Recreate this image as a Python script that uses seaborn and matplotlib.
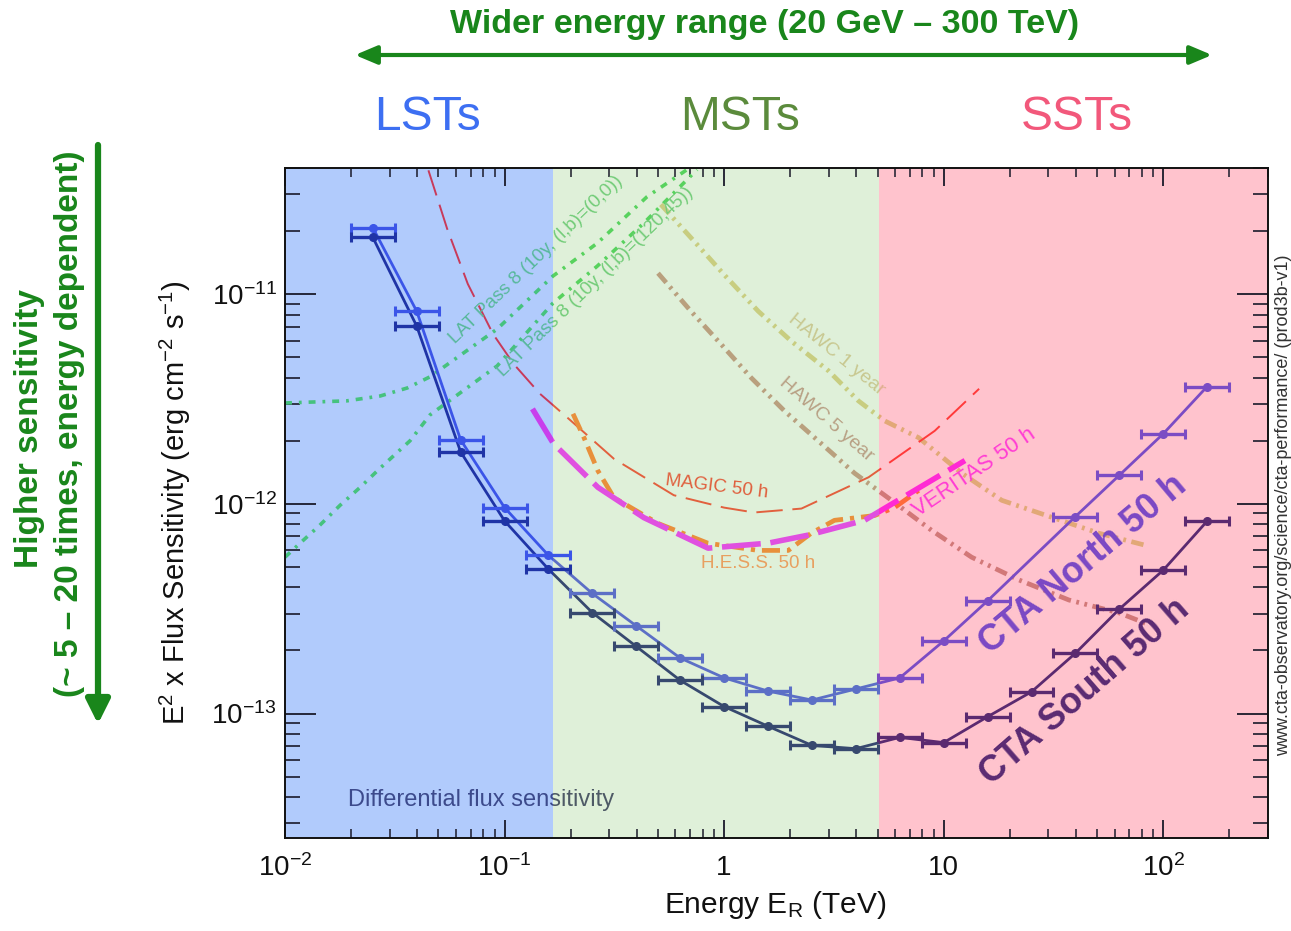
import matplotlib
matplotlib.use("Agg")
import numpy as np
import pandas as pd
import matplotlib.pyplot as plt
from matplotlib.patches import FancyArrowPatch
from matplotlib.transforms import Bbox, TransformedBbox
from matplotlib.ticker import FixedLocator, FixedFormatter, LogLocator, NullFormatter
import seaborn as sns

# ---------------------------------------------------------------- data
E_LIMITS = (1e-2, 3e2)            # TeV
F_LIMITS = (2.55e-14, 4e-11)      # erg cm^-2 s^-1
REGION_EDGES = [0.166, 5.1]       # LST | MST | SST boundaries (TeV)

x_tick_values = [1e-2, 1e-1, 1, 10, 1e2]
x_tick_labels = ["$10^{-2}$", "$10^{-1}$", "1", "10", "$10^{2}$"]
y_tick_values = [1e-13, 1e-12, 1e-11]
y_tick_labels = ["$10^{-13}$", "$10^{-12}$", "$10^{-11}$"]

cta_north_E = [0.0251, 0.0398, 0.0631, 0.100, 0.158, 0.251, 0.398, 0.631, 1.0, 1.585,
               2.512, 3.981, 6.31, 10.0, 15.85, 39.81, 63.1, 100.0, 158.5]
cta_north_F = [2.08e-11, 8.3e-12, 2.02e-12, 9.6e-13, 5.7e-13, 3.74e-13, 2.62e-13, 1.84e-13,
               1.48e-13, 1.28e-13, 1.16e-13, 1.31e-13, 1.48e-13, 2.22e-13, 3.45e-13,
               8.7e-13, 1.37e-12, 2.16e-12, 3.63e-12]
cta_south_E = [0.0251, 0.0398, 0.0631, 0.100, 0.158, 0.251, 0.398, 0.631, 1.0, 1.585,
               2.512, 3.981, 6.31, 10.0, 15.85, 25.12, 39.81, 63.1, 100.0, 158.5]
cta_south_F = [1.87e-11, 7.05e-12, 1.77e-12, 8.3e-13, 4.9e-13, 3.03e-13, 2.09e-13, 1.44e-13,
               1.08e-13, 8.7e-14, 7.05e-14, 6.8e-14, 7.7e-14, 7.27e-14, 9.66e-14, 1.27e-13,
               1.94e-13, 3.15e-13, 4.83e-13, 8.28e-13]
BIN_HALF_DEX = 0.1

magic_E = [0.045, 0.0547, 0.068, 0.0887, 0.11, 0.145, 0.194, 0.315, 0.59, 1.0, 1.37, 2.25,
           4.55, 9.1, 14.5]
magic_F = [3.9e-11, 2.06e-11, 1.12e-11, 6.45e-12, 4.65e-12, 3.35e-12, 2.57e-12, 1.64e-12,
           1.1e-12, 9.6e-13, 9.1e-13, 9.5e-13, 1.34e-12, 2.23e-12, 3.54e-12]

hess_E = [0.205, 0.23, 0.266, 0.315, 0.50, 0.845, 1.43, 1.96, 2.49, 3.18, 4.84, 5.97, 7.69]
hess_F = [2.69e-12, 2.07e-12, 1.44e-12, 1.07e-12, 8.07e-13, 6.49e-13, 6.0e-13, 6.0e-13,
          7.24e-13, 8.35e-13, 8.8e-13, 9.6e-13, 1.16e-12]

veritas_E = [0.134, 0.167, 0.266, 0.431, 0.845, 1.59, 2.42, 4.36, 7.38, 12.5]
veritas_F = [2.84e-12, 1.94e-12, 1.2e-12, 8.6e-13, 6.15e-13, 6.5e-13, 7.1e-13, 8.35e-13,
             1.16e-12, 1.61e-12]

lat00_E = [0.01, 0.0191, 0.0271, 0.0360, 0.0458, 0.0925, 0.166, 0.264, 0.446, 0.678]
lat00_F = [3.03e-12, 3.10e-12, 3.27e-12, 3.57e-12, 4.04e-12, 6.82e-12, 1.22e-11, 1.75e-11,
           2.92e-11, 3.93e-11]

lat12045_E = [0.01, 0.0117, 0.0144, 0.0178, 0.022, 0.0271, 0.0371, 0.0458, 0.0925, 0.166,
              0.264, 0.428, 0.586, 0.753]
lat12045_F = [5.57e-13, 6.49e-13, 7.91e-13, 9.84e-13, 1.2e-12, 1.48e-12, 2.0e-12, 2.66e-12,
              4.55e-12, 9.06e-12, 1.36e-11, 2.17e-11, 3.02e-11, 3.93e-11]

hawc1_E = [0.515, 0.73, 1.0, 1.43, 2.02, 2.99, 4.09, 5.38, 7.69, 12.1, 18.4, 31.1, 51.1, 82.8]
hawc1_F = [2.68e-11, 1.79e-11, 1.24e-11, 8.3e-12, 5.98e-12, 4.31e-12, 3.1e-12, 2.49e-12,
           2.07e-12, 1.40e-12, 1.04e-12, 8.63e-13, 7.24e-13, 6.35e-13]

hawc5_E = [0.5, 0.706, 0.968, 1.33, 1.88, 2.77, 3.93, 5.79, 8.81, 13.4, 22.0, 37.2, 63.0, 82.8]
hawc5_F = [1.26e-11, 8.3e-12, 5.78e-12, 3.99e-12, 2.78e-12, 1.94e-12, 1.40e-12, 1.04e-12,
           7.48e-13, 5.57e-13, 4.34e-13, 3.48e-13, 3.02e-13, 2.70e-13]

# ---------------------------------------------------------------- style
sns.set_theme(style="ticks")
plt.rcParams.update({
    "lines.scale_dashes": False,
    "mathtext.fontset": "custom",
    "mathtext.rm": "Liberation Sans",
    "mathtext.it": "Liberation Sans:italic",
    "mathtext.bf": "Liberation Sans:bold",
    "axes.linewidth": 1.4,
    "axes.edgecolor": "#111111",
})
plt.rcParams["font.family"] = ["Liberation Sans", "DejaVu Sans"]

W, H = 1291, 931
fig = plt.figure(figsize=(W / 100, H / 100), dpi=100)
fig.patch.set_facecolor("white")
ax = fig.add_axes([285 / W, 1 - 838 / H, 983 / W, 670 / H])
ax.set_xscale("log")
ax.set_yscale("log")
ax.set_xlim(*E_LIMITS)
ax.set_ylim(*F_LIMITS)
ax.set_facecolor("white")

bounds = [E_LIMITS[0]] + REGION_EDGES + [E_LIMITS[1]]
bg_colors = ["#b1cbfc", "#dff0d9", "#ffc3cd"]
for i in range(3):
    ax.axvspan(bounds[i], bounds[i + 1], color=bg_colors[i], lw=0, zorder=0)


def region_box(i, y0=0.0, y1=1.0):
    return TransformedBbox(Bbox([[bounds[i], y0], [bounds[i + 1], y1]]),
                           ax.get_xaxis_transform())


def region_index(e):
    if e < REGION_EDGES[0]:
        return 0
    if e < REGION_EDGES[1]:
        return 1
    return 2


def draw_curve(E, F, colors, lw, ls, z=2):
    df = pd.DataFrame({"E": E, "F": F})
    for i, c in enumerate(colors):
        if c is None:
            continue
        sns.lineplot(data=df, x="E", y="F", ax=ax, color=c, estimator=None,
                     sort=False, linewidth=lw, linestyle=ls, zorder=z)
        ln = ax.lines[-1]
        ln.set_clip_box(region_box(i))
        ln.set_solid_capstyle("butt")
        ln.set_dash_capstyle("butt")


def draw_points(E, F, colors):
    for e, f in zip(E, F):
        c = colors[region_index(e)]
        lo = e - e / 10 ** BIN_HALF_DEX
        hi = e * 10 ** BIN_HALF_DEX - e
        ax.errorbar([e], [f], xerr=[[lo], [hi]], fmt="o", color=c, ms=5.5,
                    elinewidth=2.4, capsize=3.5, capthick=2.2, zorder=6)


def region_text(x, y, s, colors, **kw):
    for i, c in enumerate(colors):
        if c is None:
            continue
        t = ax.text(x, y, s, color=c, transform=ax.transAxes, ha="center",
                    va="center", rotation_mode="anchor", clip_on=True, **kw)
        t.set_clip_path(None)
        t.set_clip_box(region_box(i))


# reference instruments
draw_curve(lat00_E, lat00_F, ["#46c27e", "#58d25e", None], 2.6, (0, (5, 5, 2, 5)))
draw_curve(lat12045_E, lat12045_F, ["#46c27e", "#58d25e", None], 2.6, (0, (5, 5, 2, 5)))
draw_curve(hawc1_E, hawc1_F, [None, "#c8cd80", "#e2a877"], 3.4, (0, (9, 4, 2, 4, 2, 4)))
draw_curve(hawc5_E, hawc5_F, [None, "#b9a07e", "#d27878"], 3.4, (0, (9, 4, 2, 4, 2, 4)))
draw_curve(magic_E, magic_F, ["#c83a5a", "#e2603e", "#ff3a3a"], 1.4, (0, (19, 7)))
draw_curve(hess_E, hess_F, [None, "#e8903c", "#ff6a3a"], 3.4, (0, (13, 5, 3, 5)))
draw_curve(veritas_E, veritas_F, ["#c840ec", "#e050e0", "#ff2ad4"], 4.0, (0, (28, 7)))

# CTA
north_cols = ["#3b55e8", "#5c6fc6", "#7b4cc4"]
south_cols = ["#1f34a6", "#37496f", "#5b2a70"]
draw_curve(cta_north_E, cta_north_F, north_cols, 2.0, "-", z=5)
draw_curve(cta_south_E, cta_south_F, south_cols, 2.0, "-", z=5)
draw_points(cta_north_E, cta_north_F, north_cols)
draw_points(cta_south_E, cta_south_F, south_cols)

# in-plot labels (axes-fraction positions)
region_text(0.2553, 0.8627, "LAT Pass 8 (10y, (l,b)=(0,0))", ["#58b89c", "#72cc78", None],
            fontsize=13.5, rotation=44)
region_text(0.3154, 0.8299, "LAT Pass 8 (10y, (l,b)=(120,45))", ["#58b89c", "#72cc78", None],
            fontsize=13.5, rotation=44)
region_text(0.5605, 0.7209, "HAWC 1 year", [None, "#c8c890", "#e0b090"], fontsize=14, rotation=-39)
region_text(0.5504, 0.6239, "HAWC 5 year", [None, "#b8a084", "#c89080"], fontsize=14, rotation=-41)
region_text(0.4395, 0.5239, "MAGIC 50 h", [None, "#e0603e", None], fontsize=13.5, rotation=-7)
region_text(0.4812, 0.4104, "H.E.S.S. 50 h", [None, "#e8a060", None], fontsize=13.5)
region_text(0.7009, 0.5463, "VERITAS 50 h", [None, "#f050d8", "#ff3cd4"], fontsize=16, rotation=34)
region_text(0.8118, 0.4075, "CTA North 50 h", [None, None, "#7a48c4"], fontsize=26,
            fontweight="bold", rotation=40)
region_text(0.8138, 0.2179, "CTA South 50 h", [None, None, "#5a2a72"], fontsize=26,
            fontweight="bold", rotation=41)
region_text(0.1994, 0.0567, "Differential flux sensitivity", ["#3c4a8c", "#4e5a66", None],
            fontsize=17)

# axes / ticks
ax.xaxis.set_major_locator(FixedLocator(x_tick_values))
ax.xaxis.set_major_formatter(FixedFormatter(x_tick_labels))
ax.xaxis.set_minor_locator(LogLocator(base=10, subs=np.arange(2, 10) * 1.0, numticks=60))
ax.xaxis.set_minor_formatter(NullFormatter())
ax.yaxis.set_major_locator(FixedLocator(y_tick_values))
ax.yaxis.set_major_formatter(FixedFormatter(y_tick_labels))
ax.yaxis.set_minor_locator(LogLocator(base=10, subs=np.arange(2, 10) * 1.0, numticks=60))
ax.yaxis.set_minor_formatter(NullFormatter())
ax.tick_params(which="both", direction="in", top=True, right=True, colors="#1a1a2a",
               labelcolor="#111111", labelsize=20)
ax.tick_params(axis="x", which="major", length=13, width=1.3, pad=12)
ax.tick_params(axis="x", which="minor", length=6.5, width=1.1)
ax.tick_params(axis="y", which="major", length=22, width=1.3, pad=6)
ax.tick_params(axis="y", which="minor", length=11, width=1.2)

ax.set_xlabel("Energy E$_{\\mathrm{R}}$ (TeV)", fontsize=21.5, color="#111111")
ax.set_ylabel("E$^{2}$ x Flux Sensitivity (erg cm$^{-2}$ s$^{-1}$)", fontsize=21, color="#111111")
ax.xaxis.set_label_coords((775 - 285) / 983, -(889 - 838) / 670)
ax.yaxis.set_label_coords(-(285 - 193) / 983, 0.5)

# figure-level annotations
GREEN = "#19861b"
fig.text(765 / W, 1 - 25 / H, "Wider energy range (20 GeV \u2013 300 TeV)", ha="center",
         va="center", fontsize=24.5, fontweight="bold", color=GREEN)
fig.add_artist(FancyArrowPatch((355 / W, 1 - 55 / H), (1212 / W, 1 - 55 / H),
                               transform=fig.transFigure,
                               arrowstyle="<|-|>,head_length=0.95,head_width=0.4",
                               mutation_scale=14, lw=3, color=GREEN,
                               shrinkA=0, shrinkB=0))
for label, xpix, col in [("LSTs", 427, "#3d6ff2"), ("MSTs", 740, "#5b8b3c"), ("SSTs", 1077, "#f2587b")]:
    fig.text(xpix / W, 1 - 117 / H, label, ha="center", va="center", fontsize=34.5, color=col)

fig.text(30 / W, 1 - 428 / H, "Higher sensitivity", ha="center", va="center", rotation=90,
         fontsize=24, fontweight="bold", color=GREEN)
fig.text(70 / W, 1 - 424 / H, "(~ 5 \u2013 20 times, energy dependent)", ha="center",
         va="center", rotation=90, fontsize=24, fontweight="bold", color=GREEN)
fig.add_artist(FancyArrowPatch((98 / W, 1 - 145 / H), (98 / W, 1 - 724 / H),
                               transform=fig.transFigure,
                               arrowstyle="-|>,head_length=0.9,head_width=0.45",
                               mutation_scale=16, lw=4.5, color=GREEN,
                               shrinkA=0, shrinkB=0))

fig.text(1284 / W, 1 - 505 / H, "www.cta-observatory.org/science/cta-performance/ (prod3b-v1)",
         ha="center", va="center", rotation=90, fontsize=13, color="#333333")

fig.savefig("out.png", dpi=100, facecolor="white")
